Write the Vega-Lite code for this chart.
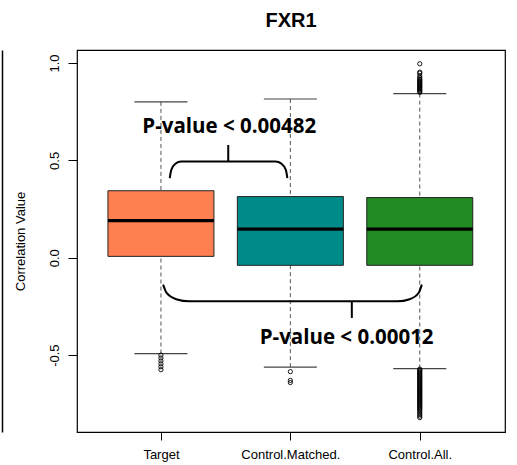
{
  "$schema": "https://vega.github.io/schema/vega-lite/v6.json",
  "width": 428,
  "height": 382,
  "autosize": {"type": "none"},
  "padding": {"left": 77, "top": 50, "right": 12, "bottom": 33},
  "background": "white",
  "title": {"text": "FXR1", "font": "Liberation Sans", "fontSize": 20, "fontWeight": "bold", "color": "black", "offset": 19, "anchor": "middle"},
  "config": {"view": {"stroke": "black", "strokeWidth": 1.2}, "axis": {"grid": false}},
  "datasets": {
    "stats": [
      {"group": "Target", "pos": 1, "lo": -0.492, "q1": 0.007, "median": 0.191, "q3": 0.344, "hi": 0.80},
      {"group": "Control.Matched.", "pos": 2, "lo": -0.562, "q1": -0.039, "median": 0.147, "q3": 0.314, "hi": 0.815},
      {"group": "Control.All.", "pos": 3, "lo": -0.569, "q1": -0.039, "median": 0.147, "q3": 0.309, "hi": 0.843}
    ],
    "outliers": [
      {"pos": 1, "value": -0.50}, {"pos": 1, "value": -0.515}, {"pos": 1, "value": -0.53}, {"pos": 1, "value": -0.545}, {"pos": 1, "value": -0.56}, {"pos": 1, "value": -0.575},
      {"pos": 2, "value": -0.585}, {"pos": 2, "value": -0.630}, {"pos": 2, "value": -0.641},
      {"pos": 3, "value": 0.849}, {"pos": 3, "value": 0.854}, {"pos": 3, "value": 0.859}, {"pos": 3, "value": 0.864}, {"pos": 3, "value": 0.869}, {"pos": 3, "value": 0.874}, {"pos": 3, "value": 0.879}, {"pos": 3, "value": 0.884}, {"pos": 3, "value": 0.889}, {"pos": 3, "value": 0.894}, {"pos": 3, "value": 0.899}, {"pos": 3, "value": 0.904}, {"pos": 3, "value": 0.909}, {"pos": 3, "value": 0.914}, {"pos": 3, "value": 0.919}, {"pos": 3, "value": 0.926}, {"pos": 3, "value": 0.935}, {"pos": 3, "value": 0.948}, {"pos": 3, "value": 0.953}, {"pos": 3, "value": 0.996},
      {"pos": 3, "value": -0.572}, {"pos": 3, "value": -0.577}, {"pos": 3, "value": -0.582}, {"pos": 3, "value": -0.587}, {"pos": 3, "value": -0.592}, {"pos": 3, "value": -0.597}, {"pos": 3, "value": -0.602}, {"pos": 3, "value": -0.607}, {"pos": 3, "value": -0.612}, {"pos": 3, "value": -0.617}, {"pos": 3, "value": -0.622}, {"pos": 3, "value": -0.627}, {"pos": 3, "value": -0.632}, {"pos": 3, "value": -0.637}, {"pos": 3, "value": -0.642}, {"pos": 3, "value": -0.647}, {"pos": 3, "value": -0.652}, {"pos": 3, "value": -0.657}, {"pos": 3, "value": -0.662}, {"pos": 3, "value": -0.667}, {"pos": 3, "value": -0.672}, {"pos": 3, "value": -0.677}, {"pos": 3, "value": -0.682}, {"pos": 3, "value": -0.687}, {"pos": 3, "value": -0.692}, {"pos": 3, "value": -0.697}, {"pos": 3, "value": -0.702}, {"pos": 3, "value": -0.707}, {"pos": 3, "value": -0.712}, {"pos": 3, "value": -0.717}, {"pos": 3, "value": -0.722}, {"pos": 3, "value": -0.727}, {"pos": 3, "value": -0.732}, {"pos": 3, "value": -0.737}, {"pos": 3, "value": -0.742}, {"pos": 3, "value": -0.747}, {"pos": 3, "value": -0.752}, {"pos": 3, "value": -0.757}, {"pos": 3, "value": -0.762}, {"pos": 3, "value": -0.767}, {"pos": 3, "value": -0.772}, {"pos": 3, "value": -0.777}, {"pos": 3, "value": -0.782}, {"pos": 3, "value": -0.790}, {"pos": 3, "value": -0.797}, {"pos": 3, "value": -0.805}, {"pos": 3, "value": -0.813}, {"pos": 3, "value": -0.821}
    ],
    "brackets": [
      {"bracket": "upper", "order": 1, "x": 1.068, "y": 0.409},
      {"bracket": "upper", "order": 2, "x": 1.080, "y": 0.451},
      {"bracket": "upper", "order": 3, "x": 1.112, "y": 0.483},
      {"bracket": "upper", "order": 4, "x": 1.155, "y": 0.494},
      {"bracket": "upper", "order": 5, "x": 1.885, "y": 0.494},
      {"bracket": "upper", "order": 6, "x": 1.931, "y": 0.483},
      {"bracket": "upper", "order": 7, "x": 1.965, "y": 0.451},
      {"bracket": "upper", "order": 8, "x": 1.977, "y": 0.409},
      {"bracket": "lower", "order": 1, "x": 1.017, "y": -0.138},
      {"bracket": "lower", "order": 2, "x": 1.044, "y": -0.181},
      {"bracket": "lower", "order": 3, "x": 1.118, "y": -0.213},
      {"bracket": "lower", "order": 4, "x": 1.219, "y": -0.224},
      {"bracket": "lower", "order": 5, "x": 2.827, "y": -0.224},
      {"bracket": "lower", "order": 6, "x": 2.922, "y": -0.213},
      {"bracket": "lower", "order": 7, "x": 2.991, "y": -0.181},
      {"bracket": "lower", "order": 8, "x": 3.016, "y": -0.138}
    ],
    "stems": [
      {"x": 1.52, "y": 0.494, "y2": 0.579},
      {"x": 2.475, "y": -0.224, "y2": -0.309}
    ],
    "labels": [
      {"label": "P-value < 0.00482", "x": 1.528, "y": 0.673},
      {"label": "P-value < 0.00012", "x": 2.435, "y": -0.41}
    ]
  },
  "resolve": {"axis": {"y": "independent"}},
  "layer": [
    {
      "data": {"name": "stats"},
      "mark": {"type": "rule", "color": "#555555", "strokeWidth": 1, "strokeDash": [4, 3]},
      "encoding": {
        "x": {"field": "pos", "type": "quantitative", "scale": {"domain": [0.39, 3.62], "nice": false, "zero": false},
              "axis": {"values": [1, 2, 3], "labelExpr": "datum.value == 1 ? 'Target' : datum.value == 2 ? 'Control.Matched.' : 'Control.All.'", "labelFont": "Liberation Sans", "labelFontSize": 13, "labelColor": "black", "labelPadding": 8, "labelOverlap": false, "labelFlush": false, "tickSize": 8, "tickColor": "black", "domain": false, "title": null, "grid": false}},
        "y": {"field": "hi", "type": "quantitative", "scale": {"domain": [-0.8949, 1.0667], "nice": false, "zero": false},
              "axis": {"values": [-0.5, 0, 0.5, 1], "format": ".1f", "labelExpr": "replace(datum.label, '−', '-')", "labelAngle": -90, "labelAlign": "center", "labelBaseline": "bottom", "labelPadding": 7, "labelFont": "Liberation Sans", "labelFontSize": 13, "labelColor": "black", "tickSize": 9, "tickColor": "black", "domain": false, "grid": false, "title": "Correlation Value", "titleFont": "Liberation Sans", "titleFontSize": 13, "titleFontWeight": "normal", "titleColor": "black", "titleX": -57, "titleY": 191, "titleAngle": -90, "titleAlign": "center", "titleBaseline": "middle"}},
        "y2": {"field": "q3"}
      }
    },
    {
      "data": {"name": "stats"},
      "mark": {"type": "rule", "color": "#555555", "strokeWidth": 1, "strokeDash": [4, 3]},
      "encoding": {
        "x": {"field": "pos", "type": "quantitative", "axis": {"values": [1, 2, 3], "labelExpr": "datum.value == 1 ? 'Target' : datum.value == 2 ? 'Control.Matched.' : 'Control.All.'", "labelFont": "Liberation Sans", "labelFontSize": 13, "labelColor": "black", "labelPadding": 8, "labelOverlap": false, "labelFlush": false, "tickSize": 8, "tickColor": "black", "domain": false, "title": null, "grid": false}},
        "y": {"field": "lo", "type": "quantitative", "axis": {"orient": "left", "offset": 75, "domain": true, "domainColor": "black", "domainWidth": 1.5, "ticks": false, "labels": false, "title": null, "grid": false}},
        "y2": {"field": "q1"}
      }
    },
    {
      "data": {"name": "stats"},
      "mark": {"type": "tick", "orient": "horizontal", "color": "#444444", "size": 53, "thickness": 1.2, "opacity": 1},
      "encoding": {
        "x": {"field": "pos", "type": "quantitative", "axis": {"values": [1, 2, 3], "labelExpr": "datum.value == 1 ? 'Target' : datum.value == 2 ? 'Control.Matched.' : 'Control.All.'", "labelFont": "Liberation Sans", "labelFontSize": 13, "labelColor": "black", "labelPadding": 8, "labelOverlap": false, "labelFlush": false, "tickSize": 8, "tickColor": "black", "domain": false, "title": null, "grid": false}},
        "y": {"field": "hi", "type": "quantitative", "axis": null}
      }
    },
    {
      "data": {"name": "stats"},
      "mark": {"type": "tick", "orient": "horizontal", "color": "#444444", "size": 53, "thickness": 1.2, "opacity": 1},
      "encoding": {
        "x": {"field": "pos", "type": "quantitative", "axis": {"values": [1, 2, 3], "labelExpr": "datum.value == 1 ? 'Target' : datum.value == 2 ? 'Control.Matched.' : 'Control.All.'", "labelFont": "Liberation Sans", "labelFontSize": 13, "labelColor": "black", "labelPadding": 8, "labelOverlap": false, "labelFlush": false, "tickSize": 8, "tickColor": "black", "domain": false, "title": null, "grid": false}},
        "y": {"field": "lo", "type": "quantitative", "axis": null}
      }
    },
    {
      "data": {"name": "stats"},
      "mark": {"type": "bar", "width": 106, "stroke": "#222222", "strokeWidth": 1, "opacity": 1},
      "encoding": {
        "x": {"field": "pos", "type": "quantitative", "axis": {"values": [1, 2, 3], "labelExpr": "datum.value == 1 ? 'Target' : datum.value == 2 ? 'Control.Matched.' : 'Control.All.'", "labelFont": "Liberation Sans", "labelFontSize": 13, "labelColor": "black", "labelPadding": 8, "labelOverlap": false, "labelFlush": false, "tickSize": 8, "tickColor": "black", "domain": false, "title": null, "grid": false}},
        "y": {"field": "q1", "type": "quantitative", "axis": null},
        "y2": {"field": "q3"},
        "color": {"field": "group", "type": "nominal", "scale": {"domain": ["Target", "Control.Matched.", "Control.All."], "range": ["#FF7F50", "#008B8B", "#228B22"]}, "legend": null}
      }
    },
    {
      "data": {"name": "stats"},
      "mark": {"type": "tick", "orient": "horizontal", "color": "black", "size": 106, "thickness": 3.2, "opacity": 1},
      "encoding": {
        "x": {"field": "pos", "type": "quantitative", "axis": {"values": [1, 2, 3], "labelExpr": "datum.value == 1 ? 'Target' : datum.value == 2 ? 'Control.Matched.' : 'Control.All.'", "labelFont": "Liberation Sans", "labelFontSize": 13, "labelColor": "black", "labelPadding": 8, "labelOverlap": false, "labelFlush": false, "tickSize": 8, "tickColor": "black", "domain": false, "title": null, "grid": false}},
        "y": {"field": "median", "type": "quantitative", "axis": null}
      }
    },
    {
      "data": {"name": "outliers"},
      "mark": {"type": "point", "shape": "circle", "filled": false, "size": 18, "stroke": "black", "strokeWidth": 0.9, "opacity": 1},
      "encoding": {
        "x": {"field": "pos", "type": "quantitative", "axis": {"values": [1, 2, 3], "labelExpr": "datum.value == 1 ? 'Target' : datum.value == 2 ? 'Control.Matched.' : 'Control.All.'", "labelFont": "Liberation Sans", "labelFontSize": 13, "labelColor": "black", "labelPadding": 8, "labelOverlap": false, "labelFlush": false, "tickSize": 8, "tickColor": "black", "domain": false, "title": null, "grid": false}},
        "y": {"field": "value", "type": "quantitative", "axis": null}
      }
    },
    {
      "data": {"name": "brackets"},
      "mark": {"type": "line", "color": "black", "strokeWidth": 2, "interpolate": "monotone"},
      "encoding": {
        "x": {"field": "x", "type": "quantitative", "axis": {"values": [1, 2, 3], "labelExpr": "datum.value == 1 ? 'Target' : datum.value == 2 ? 'Control.Matched.' : 'Control.All.'", "labelFont": "Liberation Sans", "labelFontSize": 13, "labelColor": "black", "labelPadding": 8, "labelOverlap": false, "labelFlush": false, "tickSize": 8, "tickColor": "black", "domain": false, "title": null, "grid": false}},
        "y": {"field": "y", "type": "quantitative", "axis": null},
        "detail": {"field": "bracket"},
        "order": {"field": "order"}
      }
    },
    {
      "data": {"name": "stems"},
      "mark": {"type": "rule", "color": "black", "strokeWidth": 2},
      "encoding": {
        "x": {"field": "x", "type": "quantitative", "axis": {"values": [1, 2, 3], "labelExpr": "datum.value == 1 ? 'Target' : datum.value == 2 ? 'Control.Matched.' : 'Control.All.'", "labelFont": "Liberation Sans", "labelFontSize": 13, "labelColor": "black", "labelPadding": 8, "labelOverlap": false, "labelFlush": false, "tickSize": 8, "tickColor": "black", "domain": false, "title": null, "grid": false}},
        "y": {"field": "y", "type": "quantitative", "axis": null},
        "y2": {"field": "y2"}
      }
    },
    {
      "data": {"name": "labels"},
      "mark": {"type": "text", "font": "Open Sans", "fontWeight": "bold", "fontSize": 20.5, "color": "black", "align": "center", "baseline": "middle"},
      "encoding": {
        "x": {"field": "x", "type": "quantitative", "axis": {"values": [1, 2, 3], "labelExpr": "datum.value == 1 ? 'Target' : datum.value == 2 ? 'Control.Matched.' : 'Control.All.'", "labelFont": "Liberation Sans", "labelFontSize": 13, "labelColor": "black", "labelPadding": 8, "labelOverlap": false, "labelFlush": false, "tickSize": 8, "tickColor": "black", "domain": false, "title": null, "grid": false}},
        "y": {"field": "y", "type": "quantitative", "axis": null},
        "text": {"field": "label"}
      }
    }
  ]
}
